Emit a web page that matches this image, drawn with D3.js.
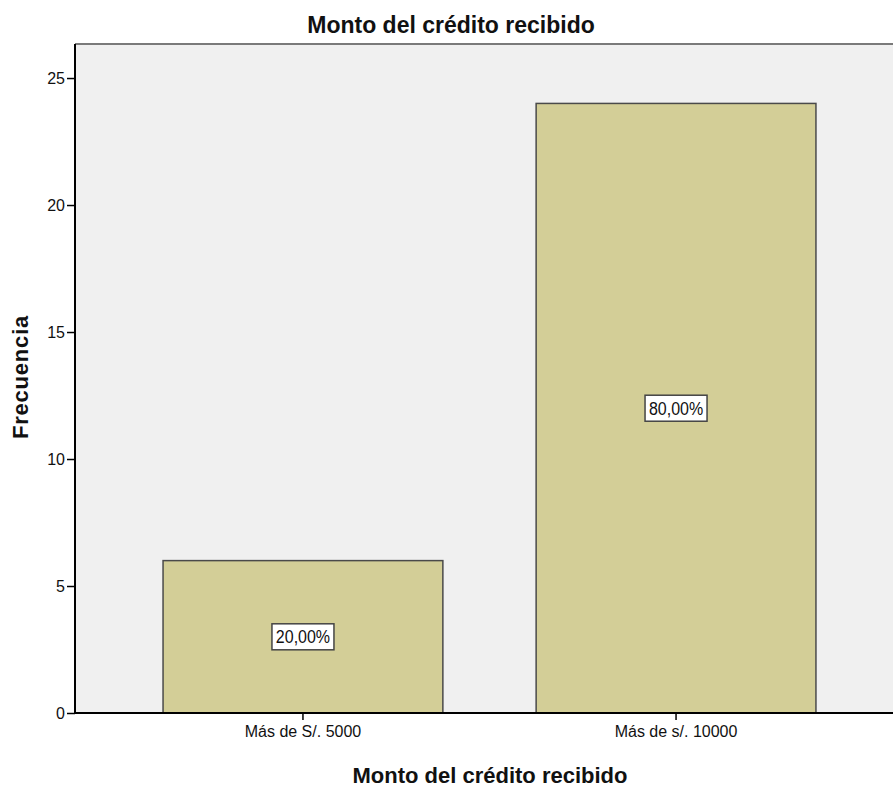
<!DOCTYPE html>
<html><head><meta charset="utf-8">
<script src="https://cdn.jsdelivr.net/npm/d3@7"></script>
<style>body{margin:0;background:#fff}svg{display:block}text{font-family:Arial,"Liberation Sans",sans-serif;fill:#111}</style>
</head><body>
<svg id="c" width="893" height="788"></svg>
<script>
const categories = ["Más de S/. 5000", "Más de s/. 10000"];
const counts = [6, 24];
const percentLabels = ["20,00%", "80,00%"];
const yTicks = [0, 5, 10, 15, 20, 25];
const chartTitle = "Monto del crédito recibido";
const xTitle = "Monto del crédito recibido";
const yTitle = "Frecuencia";

const svg = d3.select("#c");
const pLeft = 75, pTop = 44, pBottom = 713, pRight = 904;

const x = d3.scaleBand().domain(categories).range([pLeft, pRight]).paddingInner(0.25).paddingOuter(0.236);
const y = d3.scaleLinear().domain([0, 26.34]).range([pBottom, pTop]);

// plot background
svg.append("rect").attr("x", pLeft).attr("y", pTop).attr("width", pRight - pLeft).attr("height", pBottom - pTop).attr("fill", "#f0f0f0");
svg.append("line").attr("x1", pLeft).attr("x2", pRight).attr("y1", pTop).attr("y2", pTop).attr("stroke", "#7a7a7a").attr("stroke-width", 2);

// bars
svg.selectAll(".bar").data(categories).enter().append("rect")
  .attr("x", d => x(d)).attr("width", x.bandwidth())
  .attr("y", (d, i) => y(counts[i])).attr("height", (d, i) => y(0) - y(counts[i]))
  .attr("fill", "#d3ce97").attr("stroke", "#4a4a4a").attr("stroke-width", 1.5);

// percent boxes
const lab = svg.selectAll(".lab").data(categories).enter().append("g")
  .attr("transform", (d, i) => `translate(${x(d) + x.bandwidth() / 2},${y(counts[i] / 2)})`);
lab.append("rect").attr("x", -31).attr("y", -13).attr("width", 62).attr("height", 26)
  .attr("fill", "#fff").attr("stroke", "#444").attr("stroke-width", 1.5);
lab.append("text").attr("text-anchor", "middle").attr("dy", "0.36em").style("font-size", "16px")
  .attr("transform", "scale(1,1.1)")
  .text((d, i) => percentLabels[i]);

// y axis
const ya = svg.append("g").attr("transform", `translate(${pLeft},0)`)
  .call(d3.axisLeft(y).tickValues(yTicks).tickSize(8).tickPadding(2).tickFormat(d3.format("d")));
ya.select(".domain").attr("d", `M0,${pTop}V${pBottom}`).attr("stroke", "#000").attr("stroke-width", 2);
ya.selectAll(".tick line").attr("stroke", "#000").attr("stroke-width", 1.5);
ya.selectAll(".tick text").style("font-size", "16px").attr("fill", "#222");

// x axis
const xa = svg.append("g").attr("transform", `translate(0,${pBottom})`)
  .call(d3.axisBottom(x).tickSize(7).tickPadding(6));
xa.select(".domain").attr("d", `M${pLeft},0H${pRight}`).attr("stroke", "#000").attr("stroke-width", 2);
xa.selectAll(".tick line").attr("stroke", "#000").attr("stroke-width", 1.5);
xa.selectAll(".tick text").style("font-size", "16px").attr("fill", "#222");

// titles
svg.append("text").attr("x", 451).attr("y", 33).attr("text-anchor", "middle")
  .style("font-size", "23px").style("font-weight", "bold").text(chartTitle);
svg.append("text").attr("x", 490).attr("y", 783).attr("text-anchor", "middle")
  .style("font-size", "22px").style("font-weight", "bold").text(xTitle);
svg.append("text").attr("transform", "translate(28,377) rotate(-90)").attr("text-anchor", "middle")
  .style("font-size", "22px").style("font-weight", "bold").style("letter-spacing", "0.8px").text(yTitle);
</script>
</body></html>
